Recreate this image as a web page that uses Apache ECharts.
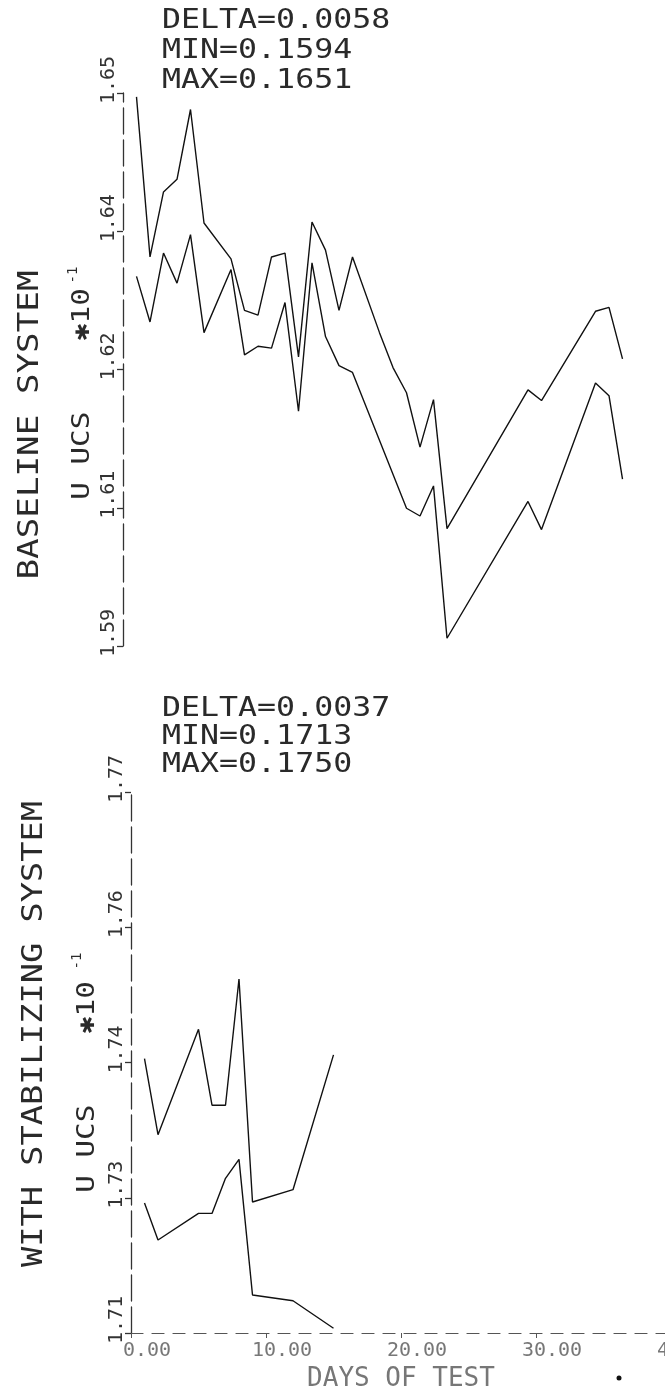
<!DOCTYPE html>
<html>
<head>
<meta charset="utf-8">
<script src="https://cdn.jsdelivr.net/npm/echarts@6/dist/echarts.min.js"></script>
<style>
  html, body { margin: 0; padding: 0; background: #fff; }
  #chart { width: 665px; height: 1393px; }
</style>
</head>
<body>
<div id="chart"></div>
<script>
// U UCS (x10^-1) against days of test, two systems, two traces each

// Baseline system
const baseUpperDays = [1, 2, 3, 4, 5, 6, 8, 9, 10, 11, 12, 13, 14, 15, 16, 17, 19, 20, 21, 22, 23, 24, 30, 31, 35, 36, 37];
const baseUpper = [1.6506, 1.6341, 1.6408, 1.6421, 1.6493, 1.6376, 1.6339, 1.6286, 1.6281, 1.6341, 1.6345, 1.6238, 1.6377, 1.6348, 1.6286, 1.6341, 1.6263, 1.6227, 1.6201, 1.6145, 1.6194, 1.6061, 1.6204, 1.6193, 1.6285, 1.6289, 1.6236];
const baseLowerDays = [1, 2, 3, 4, 5, 6, 8, 9, 10, 11, 12, 13, 14, 15, 16, 17, 21, 22, 23, 24, 30, 31, 35, 36, 37];
const baseLower = [1.6321, 1.6274, 1.6345, 1.6314, 1.6364, 1.6263, 1.6328, 1.6240, 1.6249, 1.6247, 1.6294, 1.6182, 1.6335, 1.6259, 1.6229, 1.6222, 1.6082, 1.6074, 1.6105, 1.5948, 1.6089, 1.6060, 1.6211, 1.6198, 1.6112];

// With stabilizing system
const stabDays = [1, 2, 5, 6, 7, 8, 9, 12, 15];
const stabUpper = [1.7419, 1.7339, 1.7450, 1.7370, 1.7370, 1.7503, 1.7268, 1.7281, 1.7423];
const stabLower = [1.7267, 1.7228, 1.7256, 1.7256, 1.7293, 1.7313, 1.7170, 1.7164, 1.7135];

// Scales and printed tick labels
const baseRange = [1.594, 1.651];
const stabRange = [1.713, 1.770];
const baseTickLabels = ['1.59', '1.61', '1.62', '1.64', '1.65'];
const stabTickLabels = ['1.71', '1.73', '1.74', '1.76', '1.77'];
const dayRange = [0, 40];
const dayStep = 10;

// Header texts
const baseStats = ['DELTA=0.0058', 'MIN=0.1594', 'MAX=0.1651'];
const stabStats = ['DELTA=0.0037', 'MIN=0.1713', 'MAX=0.1750'];
const baseTitle = 'BASELINE SYSTEM';
const stabTitle = 'WITH STABILIZING SYSTEM';
const yName = 'U UCS    \u273110';
const yNameExp = '-1';
const xName = 'DAYS OF TEST';

const MONO = "'DejaVu Sans Mono', 'Liberation Mono', monospace";
const INK = '#2a2a2a';

function pairs(xs, ys) { return xs.map((d, i) => [d, ys[i]]); }

function yAxisFor(gridIndex, range, labels) {
  const step = (range[1] - range[0]) / (labels.length - 1);
  const ticks = labels.map((_, i) => +(range[0] + i * step).toFixed(6));
  return {
    type: 'value', gridIndex, min: range[0], max: range[1],
    axisLine: { show: true, lineStyle: { color: '#333', width: 1.3, type: [26, 6] } },
    axisTick: { show: true, customValues: ticks, length: 6, lineStyle: { color: '#333', width: 1.3 } },
    axisLabel: {
      show: true, customValues: ticks, rotate: 90, margin: 4,
      padding: [0, 0, 0, 26],
      fontFamily: MONO, fontSize: 20, color: '#333',
      formatter: (v) => {
        let best = 0;
        ticks.forEach((t, i) => { if (Math.abs(t - v) < Math.abs(ticks[best] - v)) best = i; });
        return labels[best];
      }
    },
    splitLine: { show: false }
  };
}

function lineSeries(xi, data) {
  return {
    type: 'line', xAxisIndex: xi, yAxisIndex: xi, data,
    showSymbol: false, symbol: 'none',
    lineStyle: { color: '#111', width: 1.4 },
    animation: false
  };
}

function statText(lines, x, y0, dy) {
  return lines.map((t, i) => ({
    type: 'text', x, y: y0 + i * dy, scaleX: 1.17,
    style: { text: t, fontFamily: MONO, fontSize: 27, fill: INK, align: 'left', verticalAlign: 'middle' }
  }));
}

function vText(t, x, y, size, sx, fill) {
  return {
    type: 'text', x, y, rotation: Math.PI / 2, scaleX: sx,
    style: { text: t, fontFamily: MONO, fontSize: size, fill: fill || INK, align: 'center', verticalAlign: 'middle' }
  };
}

const chart = echarts.init(document.getElementById('chart'), null, { renderer: 'canvas' });

chart.setOption({
  backgroundColor: '#fff',
  animation: false,
  grid: [
    { left: 123, top: 93, width: 540, height: 553, containLabel: false, outerBoundsMode: 'none' },
    { left: 131, top: 792, width: 540, height: 541, containLabel: false, outerBoundsMode: 'none' }
  ],
  xAxis: [
    { type: 'value', gridIndex: 0, min: dayRange[0], max: dayRange[1], interval: dayStep, show: false },
    {
      type: 'value', gridIndex: 1, min: dayRange[0], max: dayRange[1], interval: dayStep,
      axisLine: { show: true, onZero: false, lineStyle: { color: '#555', width: 1.2, type: [12, 9] } },
      axisTick: { show: true, length: 5, lineStyle: { color: '#555' } },
      axisLabel: {
        margin: 8, padding: [0, 0, 0, 32], fontFamily: MONO, fontSize: 20, color: '#777',
        showMaxLabel: true, formatter: (v) => v.toFixed(2)
      },
      splitLine: { show: false },
      name: xName, nameLocation: 'middle', nameGap: 33,
      nameTextStyle: { fontFamily: MONO, fontSize: 26, color: '#777' }
    }
  ],
  yAxis: [
    yAxisFor(0, baseRange, baseTickLabels),
    yAxisFor(1, stabRange, stabTickLabels)
  ],
  series: [
    lineSeries(0, pairs(baseUpperDays, baseUpper)),
    lineSeries(0, pairs(baseLowerDays, baseLower)),
    lineSeries(1, pairs(stabDays, stabUpper)),
    lineSeries(1, pairs(stabDays, stabLower))
  ],
  graphic: [
    ...statText(baseStats, 162, 21, 30),
    ...statText(stabStats, 162, 709, 28),
    vText(baseTitle, 30, 425, 29, 1.18),
    vText(stabTitle, 34, 1034, 29, 1.16),
    vText(yName, 83, 394, 24, 1.22),
    vText(yNameExp, 73, 275, 14, 1),
    vText(yName, 88, 1087, 24, 1.22),
    vText(yNameExp, 77, 961, 14, 1),
    { type: 'circle', shape: { cx: 619, cy: 1378, r: 2.5 }, style: { fill: '#111' } }
  ]
});
</script>
</body>
</html>
